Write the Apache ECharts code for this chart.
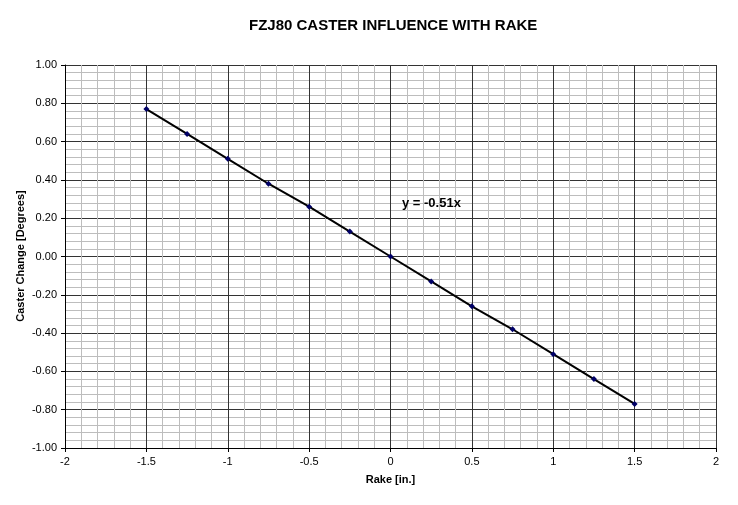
<!DOCTYPE html>
<html>
<head>
<meta charset="utf-8">
<script src="https://cdn.jsdelivr.net/npm/echarts@6/dist/echarts.min.js"></script>
<style>
  html, body { margin: 0; padding: 0; background: #fff; }
  #chart { width: 738px; height: 505px; }
</style>
</head>
<body>
<div id="chart"></div>
<script>
// rake values [in.] and caster change [deg]
const rake = [-1.5, -1.25, -1, -0.75, -0.5, -0.25, 0, 0.25, 0.5, 0.75, 1, 1.25, 1.5];
const caster = [0.77, 0.64, 0.51, 0.38, 0.26, 0.13, 0.00, -0.13, -0.26, -0.38, -0.51, -0.64, -0.77];
const titleText = 'FZJ80 CASTER INFLUENCE WITH RAKE';
const yName = 'Caster Change [Degrees]';
const trendText = 'y = -0.51x';

const font = 'Liberation Sans, Arial, sans-serif';
const chart = echarts.init(document.getElementById('chart'));

const option = {
  backgroundColor: '#fff',
  animation: false,
  title: {
    text: titleText,
    left: 244,
    top: 13,
    textStyle: { fontFamily: font, fontSize: 15, fontWeight: 'bold', color: '#000' }
  },
  grid: { left: 65, right: 22, top: 65, bottom: 57 },
  xAxis: {
    type: 'value',
    min: -2,
    max: 2,
    interval: 0.5,
    name: 'Rake [in.]',
    nameLocation: 'middle',
    nameGap: 26,
    nameTextStyle: { fontFamily: font, fontSize: 11, fontWeight: 'bold', color: '#000' },
    axisLine: { onZero: false, lineStyle: { color: '#000', width: 1 } },
    axisTick: { show: true, length: 4, lineStyle: { color: '#000' } },
    axisLabel: { fontFamily: font, fontSize: 11, color: '#000', margin: 8 },
    splitLine: { show: true, lineStyle: { color: '#333', width: 1 } },
    minorTick: { show: false, splitNumber: 5 },
    minorSplitLine: { show: true, lineStyle: { color: '#bdbdbd', width: 1 } }
  },
  yAxis: {
    type: 'value',
    min: -1,
    max: 1,
    interval: 0.2,
    axisLine: { show: true, onZero: false, lineStyle: { color: '#000', width: 1 } },
    axisTick: { show: true, length: 4, lineStyle: { color: '#000' } },
    axisLabel: {
      fontFamily: font, fontSize: 11, color: '#000', margin: 8,
      formatter: v => v.toFixed(2)
    },
    splitLine: { show: true, lineStyle: { color: '#333', width: 1 } },
    minorTick: { show: false, splitNumber: 5 },
    minorSplitLine: { show: true, lineStyle: { color: '#bdbdbd', width: 1 } }
  },
  series: [
    {
      type: 'line',
      data: rake.map((x, i) => [x, caster[i]]),
      symbol: 'diamond',
      symbolSize: 6,
      showAllSymbol: true,
      lineStyle: { color: '#000', width: 2 },
      itemStyle: { color: '#000066' },
      z: 5
    }
  ],
  graphic: [
    {
      // y axis title, placed by hand so it sits close to the labels
      type: 'text',
      x: 21,
      y: 256,
      rotation: Math.PI / 2,
      style: {
        text: yName, font: 'bold 11px ' + font, fill: '#000',
        align: 'center', verticalAlign: 'middle'
      }
    },
    {
      type: 'text',
      left: 402,
      top: 197,
      z: 10,
      style: { text: trendText, font: 'bold 13px ' + font, fill: '#000' }
    }
  ]
};

chart.setOption(option);
</script>
</body>
</html>
